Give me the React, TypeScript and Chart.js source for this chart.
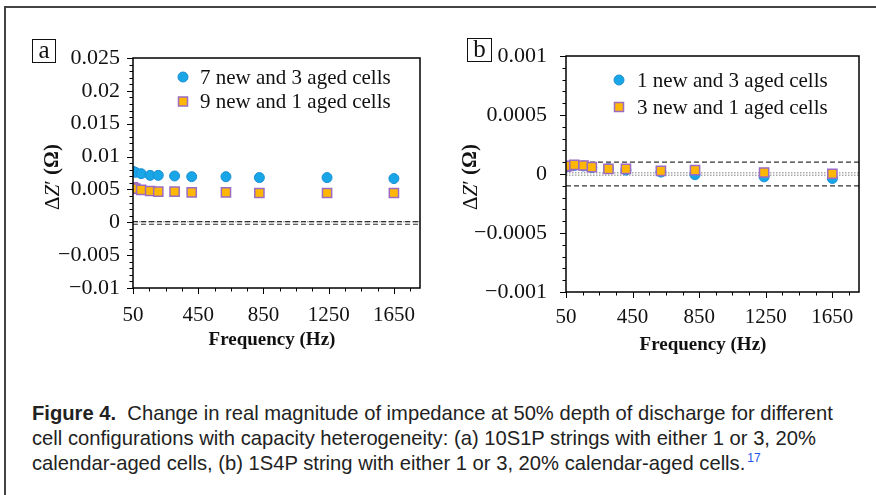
import React, { useEffect, useRef } from 'react';
import { Chart, registerables } from 'chart.js';

Chart.register(...registerables);

// ---------------- data ----------------
const freqA = [50, 65, 100, 155, 205, 305, 410, 620, 825, 1240, 1650];
const sevenNewThreeAged = [0.00775, 0.0076, 0.0074, 0.00714, 0.00714, 0.00705, 0.00694, 0.00694, 0.0068, 0.0068, 0.00665];
const nineNewOneAged = [0.00531, 0.00511, 0.00492, 0.00476, 0.00466, 0.00466, 0.00455, 0.00455, 0.00446, 0.00446, 0.00446];

const freqB = [50, 65, 100, 155, 205, 305, 410, 620, 825, 1240, 1650];
const oneNewThreeAged = [0.00006, 0.000065, 0.000072, 0.000068, 0.000055, 0.000045, 0.000033, 0.000016, -0.000006, -0.000024, -0.000038];
const threeNewOneAged = [0.0000635, 0.000069, 0.000078, 0.000072, 0.000058, 0.000044, 0.000044, 0.000027, 0.000033, 0.0000127, 0.000002];

const legendA = ['7 new and 3 aged cells', '9 new and 1 aged cells'];
const legendB = ['1 new and 3 aged cells', '3 new and 1 aged cells'];

const xTickVals = [50, 450, 850, 1250, 1650];
const xTickLabels = ['50', '450', '850', '1250', '1650'];

const yTickValsA = [-0.01, -0.005, 0, 0.005, 0.01, 0.015, 0.02, 0.025];
const yTickLabelsA = ['\u22120.01', '\u22120.005', '0', '0.005', '0.01', '0.015', '0.02', '0.025'];
const yTickValsB = [-0.001, -0.0005, 0, 0.0005, 0.001];
const yTickLabelsB = ['\u22120.001', '\u22120.0005', '0', '0.0005', '0.001'];

const dashedRefA = [0.0001, -0.0003];
const dottedRefA = [0.0001];
const dashedRefB = [0.0001, -0.0001];
const dottedRefB = [0.00001, -0.00001];

const X_MIN = 50;
const X_MAX = 1810;

// ---------------- styles ----------------
const BLUE_FILL = '#18a6e6';
const BLUE_EDGE = '#1b8fd6';
const GOLD_FILL = '#ffb703';
const PURPLE_EDGE = '#9a6cc4';
const SERIF = "'Liberation Serif', 'DejaVu Serif', serif";

function drawMarker(ctx: CanvasRenderingContext2D, kind: string, x: number, y: number) {
  ctx.save();
  if (kind === 'circle') {
    ctx.beginPath();
    ctx.arc(x, y, 5, 0, Math.PI * 2);
    ctx.fillStyle = BLUE_FILL;
    ctx.fill();
    ctx.lineWidth = 1;
    ctx.strokeStyle = BLUE_EDGE;
    ctx.stroke();
  } else {
    ctx.beginPath();
    ctx.rect(x - 4.5, y - 4.5, 9, 9);
    ctx.fillStyle = GOLD_FILL;
    ctx.fill();
    ctx.lineWidth = 1.5;
    ctx.strokeStyle = PURPLE_EDGE;
    ctx.stroke();
  }
  ctx.restore();
}

const decorPlugin = {
  id: 'decor',
  afterDraw(chart: any, _args: any, opts: any) {
    const { ctx, chartArea, scales } = chart;
    const { left, right, top, bottom } = chartArea;
    const x = scales.x;
    const y = scales.y;
    ctx.save();

    // plot frame
    ctx.strokeStyle = '#000';
    ctx.lineWidth = 1.5;
    ctx.strokeRect(left, top, right - left, bottom - top);

    // ticks
    ctx.lineWidth = 1;
    ctx.beginPath();
    const nxMinor = Math.round((X_MAX - X_MIN) / 100);
    for (let i = 0; i <= nxMinor; i++) {
      const v = X_MIN + i * 100;
      if (v > X_MAX) break;
      const px = Math.round(x.getPixelForValue(v)) + 0.5;
      const major = xTickVals.includes(v);
      ctx.moveTo(px, bottom);
      ctx.lineTo(px, bottom + (major ? 6 : 3.5));
    }
    const yMin = y.min;
    const yMax = y.max;
    const nyMinor = Math.round((yMax - yMin) / opts.yMinor);
    const nPerMajor = Math.round(opts.yMajor / opts.yMinor);
    for (let i = 0; i <= nyMinor; i++) {
      const v = yMin + i * opts.yMinor;
      const py = Math.round(y.getPixelForValue(v)) + 0.5;
      const major = i % nPerMajor === 0;
      ctx.moveTo(left, py);
      ctx.lineTo(left - (major ? 6 : 3.5), py);
    }
    ctx.stroke();

    // x title
    ctx.fillStyle = '#111';
    ctx.font = `bold 19px ${SERIF}`;
    ctx.textAlign = 'center';
    ctx.textBaseline = 'middle';
    ctx.fillText('Frequency (Hz)', opts.xTitleX, opts.xTitleY);

    // y title with mixed styles
    const parts = [
      { t: '\u0394', f: `21px ${SERIF}` },
      { t: 'Z', f: `italic 21px ${SERIF}` },
      { t: '\u2032 ', f: `21px ${SERIF}` },
      { t: '(\u03A9)', f: `bold 21px ${SERIF}` },
    ];
    let total = 0;
    parts.forEach((p) => {
      ctx.font = p.f;
      total += ctx.measureText(p.t).width;
    });
    ctx.save();
    ctx.translate(opts.yTitleX, opts.yTitleY);
    ctx.rotate(-Math.PI / 2);
    ctx.textAlign = 'left';
    let cx = -total / 2;
    parts.forEach((p) => {
      ctx.font = p.f;
      ctx.fillText(p.t, cx, 0);
      cx += ctx.measureText(p.t).width;
    });
    ctx.restore();

    // legend
    ctx.font = `21px ${SERIF}`;
    ctx.textAlign = 'left';
    ctx.textBaseline = 'middle';
    opts.legend.forEach((item: any, i: number) => {
      const ly = opts.legendY + i * opts.legendGap;
      drawMarker(ctx, item.kind, opts.legendMarkerX, ly);
      ctx.fillStyle = '#111';
      ctx.fillText(item.label, opts.legendTextX, ly + 1);
    });

    ctx.restore();
  },
};

function refLine(yv: number, dashed: boolean) {
  return {
    type: 'line',
    data: [
      { x: X_MIN, y: yv },
      { x: X_MAX, y: yv },
    ],
    borderColor: dashed ? '#333' : '#aaa',
    borderWidth: dashed ? 1.2 : 1.5,
    borderDash: dashed ? [5, 3] : [1.5, 1.5],
    pointRadius: 0,
    showLine: true,
    order: dashed ? 10 : 11,
  };
}

function buildConfig(p: any) {
  const circles = {
    type: 'scatter',
    data: p.freq.map((f: number, i: number) => ({ x: f, y: p.circleVals[i] })),
    pointStyle: 'circle',
    pointRadius: 5,
    backgroundColor: BLUE_FILL,
    borderColor: BLUE_EDGE,
    borderWidth: 1,
    order: 2,
  };
  const squares = {
    type: 'scatter',
    data: p.freq.map((f: number, i: number) => ({ x: f, y: p.squareVals[i] })),
    pointStyle: 'rect',
    pointRadius: 6.5,
    backgroundColor: GOLD_FILL,
    borderColor: PURPLE_EDGE,
    borderWidth: 1.5,
    order: 1,
  };
  const refs = [
    ...p.dotted.map((v: number) => refLine(v, false)),
    ...p.dashed.map((v: number) => refLine(v, true)),
  ];
  return {
    type: 'scatter',
    data: { datasets: [squares, circles, ...refs] },
    plugins: [decorPlugin],
    options: {
      animation: false,
      responsive: false,
      devicePixelRatio: 1,
      events: [],
      layout: { padding: { left: 0, top: p.padTop, right: p.padRight, bottom: 0 } },
      plugins: {
        legend: { display: false },
        tooltip: { enabled: false },
        decor: p.decor,
      },
      scales: {
        x: {
          type: 'linear',
          min: X_MIN,
          max: X_MAX,
          afterBuildTicks: (s: any) => {
            s.ticks = xTickVals.map((v) => ({ value: v }));
          },
          afterFit: (s: any) => {
            s.height = p.xAxisH;
          },
          ticks: {
            autoSkip: false,
            maxRotation: 0,
            padding: p.xPad,
            color: '#111',
            font: { family: SERIF, size: 21 },
            callback: (_v: any, i: number) => xTickLabels[i],
          },
          grid: { display: false, drawTicks: false },
          border: { display: false },
        },
        y: {
          type: 'linear',
          min: p.yVals[0],
          max: p.yVals[p.yVals.length - 1],
          afterBuildTicks: (s: any) => {
            s.ticks = p.yVals.map((v: number) => ({ value: v }));
          },
          afterFit: (s: any) => {
            s.width = p.yAxisW;
          },
          ticks: {
            autoSkip: false,
            padding: p.yPad,
            color: '#111',
            font: { family: SERIF, size: 22 },
            callback: (_v: any, i: number) => p.yLabels[i],
          },
          grid: { display: false, drawTicks: false },
          border: { display: false },
        },
      },
    },
  };
}

function Panel(props: { cfg: any; left: number; width: number; height: number }) {
  const ref = useRef<HTMLCanvasElement | null>(null);
  useEffect(() => {
    if (!ref.current) return;
    const chart = new Chart(ref.current, buildConfig(props.cfg) as any);
    return () => chart.destroy();
  }, []);
  return (
    <canvas
      ref={ref}
      width={props.width}
      height={props.height}
      style={{ position: 'absolute', left: props.left, top: 0, width: props.width, height: props.height }}
    />
  );
}

const panelA = {
  freq: freqA,
  circleVals: sevenNewThreeAged,
  squareVals: nineNewOneAged,
  dashed: dashedRefA,
  dotted: dottedRefA,
  yVals: yTickValsA,
  yLabels: yTickLabelsA,
  padTop: 58,
  padRight: 20,
  yAxisW: 133,
  xAxisH: 82,
  xPad: 15,
  yPad: 13,
  decor: {
    yMinor: 0.001,
    yMajor: 0.005,
    xTitleX: 272,
    xTitleY: 340,
    yTitleX: 53,
    yTitleY: 177,
    legendMarkerX: 183,
    legendTextX: 200,
    legendY: 77,
    legendGap: 24.5,
    legend: [
      { kind: 'circle', label: legendA[0] },
      { kind: 'square', label: legendA[1] },
    ],
  },
};

const panelB = {
  freq: freqB,
  circleVals: oneNewThreeAged,
  squareVals: threeNewOneAged,
  dashed: dashedRefB,
  dotted: dottedRefB,
  yVals: yTickValsB,
  yLabels: yTickLabelsB,
  padTop: 56,
  padRight: 17,
  yAxisW: 126,
  xAxisH: 78,
  xPad: 13,
  yPad: 19,
  decor: {
    yMinor: 0.0001,
    yMajor: 0.0005,
    xTitleX: 263,
    xTitleY: 345,
    yTitleX: 31,
    yTitleY: 177,
    legendMarkerX: 179,
    legendTextX: 197,
    legendY: 80,
    legendGap: 27,
    legend: [
      { kind: 'circle', label: legendB[0] },
      { kind: 'square', label: legendB[1] },
    ],
  },
};

const boxStyle: React.CSSProperties = {
  position: 'absolute',
  boxSizing: 'border-box',
  border: '1px solid #111',
  fontFamily: SERIF,
  fontSize: 25,
  lineHeight: '20px',
  textAlign: 'center',
  color: '#111',
  background: '#fff',
};

export default function App() {
  return (
    <div
      style={{
        position: 'absolute',
        left: 0,
        top: 0,
        width: 876,
        height: 495,
        overflow: 'hidden',
        background: '#fff',
      }}
    >
      <div
        style={{
          position: 'absolute',
          left: 4,
          top: 6,
          width: 900,
          height: 520,
          borderLeft: '2px solid #444',
          borderTop: '2px solid #444',
        }}
      />
      <Panel cfg={panelA} left={0} width={440} height={370} />
      <Panel cfg={panelB} left={440} width={436} height={370} />
      <div style={{ ...boxStyle, left: 32, top: 39, width: 24, height: 24 }}>a</div>
      <div style={{ ...boxStyle, left: 467, top: 38, width: 25, height: 24 }}>b</div>
      <div
        style={{
          position: 'absolute',
          left: 32,
          top: 401,
          fontFamily: "'Liberation Sans', Arial, sans-serif",
          fontSize: 20.2,
          lineHeight: '24.8px',
          color: '#222',
          whiteSpace: 'nowrap',
        }}
      >
        <b>Figure 4.</b>
        {'\u00a0\u00a0Change in real magnitude of impedance at 50% depth of discharge for different'}
        <br />
        {'cell configurations with capacity heterogeneity: (a) 10S1P strings with either 1 or 3, 20%'}
        <br />
        {'calendar-aged cells, (b) 1S4P string with either 1 or 3, 20% calendar-aged cells.'}
        <span
          style={{
            color: '#2255ee',
            fontSize: 12,
            lineHeight: 0,
            position: 'relative',
            top: -8,
            marginLeft: 2,
          }}
        >
          17
        </span>
      </div>
    </div>
  );
}
